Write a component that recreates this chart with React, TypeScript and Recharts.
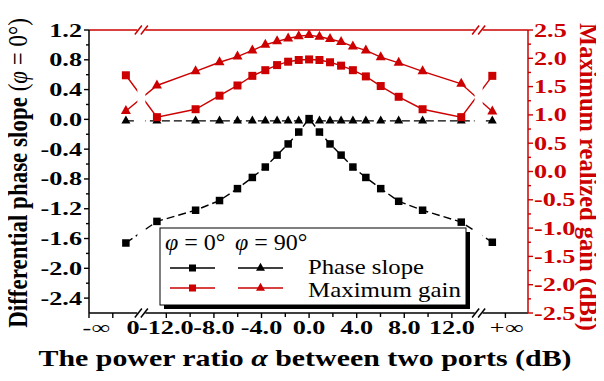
import React from "react";
import { ComposedChart, Line, XAxis, YAxis, ReferenceLine } from "recharts";

// Power ratio between the two ports in dB (±Infinity = one port only)
const powerRatioDb = [
  -Infinity, -12.79, -9.54, -7.53, -6.02, -4.77, -3.68, -2.69, -1.76, -0.87, 0,
  0.87, 1.76, 2.69, 3.68, 4.77, 6.02, 7.53, 9.54, 12.79, Infinity,
];

// Differential phase slope (left axis)
const phaseSlopePhi0 = [
  -1.66, -1.37, -1.22, -1.09, -0.93, -0.78, -0.64, -0.48, -0.33, -0.17, 0.01,
  -0.17, -0.33, -0.48, -0.64, -0.78, -0.93, -1.1, -1.22, -1.38, -1.65,
];
const phaseSlopePhi90 = [
  -0.02, -0.02, -0.02, -0.02, -0.02, -0.02, -0.02, -0.02, -0.02, -0.02, -0.02,
  -0.02, -0.02, -0.02, -0.02, -0.02, -0.02, -0.02, -0.02, -0.02, -0.02,
];

// Maximum realized gain in dBi (right axis)
const gainPhi0 = [
  1.7, 0.96, 1.1, 1.34, 1.52, 1.69, 1.79, 1.88, 1.94, 1.97, 1.98,
  1.97, 1.93, 1.87, 1.79, 1.68, 1.51, 1.32, 1.1, 0.96, 1.69,
];
const gainPhi90 = [
  1.07, 1.52, 1.77, 1.93, 2.03, 2.14, 2.24, 2.3, 2.35, 2.39, 2.41,
  2.38, 2.34, 2.29, 2.21, 2.14, 2.02, 1.92, 1.77, 1.55, 1.06,
];

// Axis ticks
const leftMajorTicks = [1.2, 0.8, 0.4, 0, -0.4, -0.8, -1.2, -1.6, -2.0, -2.4];
const leftMinorTicks = [1.0, 0.6, 0.2, -0.2, -0.6, -1.0, -1.4, -1.8, -2.2];
const rightMajorTicks = [2.5, 2.0, 1.5, 1.0, 0.5, 0, -0.5, -1.0, -1.5, -2.0, -2.5];
const rightMinorTicks = [2.25, 1.75, 1.25, 0.75, 0.25, -0.25, -0.75, -1.25, -1.75, -2.25];
const xMajorTicks = [-18.5, -16.5, -12, -8, -4, 0, 4, 8, 12, 16.5];
const xMinorTicks = [-10, -6, -2, 2, 6, 10];
const xTickLabels = [
  { at: -17.9, text: "-∞" },
  { at: -14.8, text: "0" },
  { at: -12, text: "-12.0" },
  { at: -8, text: "-8.0" },
  { at: -4, text: "-4.0" },
  { at: 0, text: "0.0" },
  { at: 4, text: "4.0" },
  { at: 8, text: "8.0" },
  { at: 12, text: "12.0" },
  { at: 16.6, text: "+∞" },
];

// Layout of the broken x axis
const X_DOMAIN: [number, number] = [-18.5, 18.4];
const LEFT_DOMAIN: [number, number] = [-2.6, 1.2];
const RIGHT_DOMAIN: [number, number] = [-2.5, 2.5];
const INF_POS = 15.4;
const BREAK_POS = [-14.1, 14.25];

const FONT = "'Liberation Serif', 'Times New Roman', Times, serif";
const RED = "#cc0000";
const BLACK = "#000000";

const CHART_W = 604;
const CHART_H = 381;
const MARGIN = { top: 30, right: 16, bottom: 38, left: 29 };
const Y_AXIS_W = 60;
const X_AXIS_H = 30;
const PLOT_LEFT = MARGIN.left + Y_AXIS_W;
const PLOT_RIGHT = CHART_W - MARGIN.right - Y_AXIS_W;
const PLOT_TOP = MARGIN.top;
const PLOT_BOTTOM = CHART_H - MARGIN.bottom - X_AXIS_H;

const axisPos = (db: number) => (Number.isFinite(db) ? db : Math.sign(db) * INF_POS);
const xToPx = (v: number) =>
  PLOT_LEFT + ((v - X_DOMAIN[0]) / (X_DOMAIN[1] - X_DOMAIN[0])) * (PLOT_RIGHT - PLOT_LEFT);

const rows = powerRatioDb.map((db, i) => ({
  pos: axisPos(db),
  ps0: phaseSlopePhi0[i],
  ps90: phaseSlopePhi90[i],
  g0: gainPhi0[i],
  g90: gainPhi90[i],
}));

const xTicks = Array.from(
  new Set([...xMajorTicks, ...xMinorTicks, ...xTickLabels.map((l) => l.at)])
).sort((a, b) => a - b);

const TICK_FONT = 19;
const TICK_STRETCH = 1.38;

const LeftTick = (props: any) => {
  const { x, y, payload } = props;
  const v = payload.value;
  const major = leftMajorTicks.includes(v);
  return (
    <g>
      <line x1={x} y1={y} x2={x - (major ? 5 : 3)} y2={y} stroke={BLACK} strokeWidth={1.4} />
      {major && (
        <text
          transform={`translate(${x - 7},${y + 6.5}) scale(${TICK_STRETCH},1)`}
          textAnchor="end"
          fontFamily={FONT}
          fontWeight="bold"
          fontSize={TICK_FONT}
          fill={BLACK}
        >
          {v.toFixed(1)}
        </text>
      )}
    </g>
  );
};

const RightTick = (props: any) => {
  const { x, y, payload } = props;
  const v = payload.value;
  const major = rightMajorTicks.includes(v);
  return (
    <g>
      <line x1={x} y1={y} x2={x + (major ? 5 : 3)} y2={y} stroke={RED} strokeWidth={1.4} />
      {major && (
        <text
          transform={`translate(${x + 6},${y + 6.5}) scale(${TICK_STRETCH},1)`}
          textAnchor="start"
          fontFamily={FONT}
          fontWeight="bold"
          fontSize={TICK_FONT}
          fill={RED}
        >
          {v.toFixed(1)}
        </text>
      )}
    </g>
  );
};

const BottomTick = (props: any) => {
  const { x, y, payload } = props;
  const v = payload.value;
  const major = xMajorTicks.includes(v);
  const minor = xMinorTicks.includes(v);
  const label = xTickLabels.find((l) => l.at === v);
  const isInf = label && label.text.includes("∞");
  return (
    <g>
      {(major || minor) && (
        <line x1={x} y1={y} x2={x} y2={y + (major ? 5 : 4)} stroke={BLACK} strokeWidth={1.4} />
      )}
      {label && (
        <text
          transform={`translate(${x},${y + 21}) scale(${TICK_STRETCH},1)`}
          textAnchor="middle"
          fontFamily={FONT}
          fontWeight={isInf ? "normal" : "bold"}
          fontSize={TICK_FONT}
          fill={BLACK}
        >
          {label.text}
        </text>
      )}
    </g>
  );
};

const squareDot = (color: string, size: number) => (p: any) => {
  if (p.cx == null || p.cy == null) return <g key={`s${p.index}`} />;
  return (
    <rect
      key={`s${p.index}`}
      x={p.cx - size / 2}
      y={p.cy - size / 2}
      width={size}
      height={size}
      fill={color}
    />
  );
};

const triPoints = (cx: number, cy: number, w: number, h: number) =>
  `${cx},${cy - (2 * h) / 3} ${cx - w / 2},${cy + h / 3} ${cx + w / 2},${cy + h / 3}`;

const triangleDot = (color: string, w: number, h: number) => (p: any) => {
  if (p.cx == null || p.cy == null) return <g key={`t${p.index}`} />;
  return <polygon key={`t${p.index}`} points={triPoints(p.cx, p.cy, w, h)} fill={color} />;
};

// Axis break: white gap plus two slanted strokes on the top and bottom frame
const AxisBreak = ({ at }: { at: number }) => {
  const cx = xToPx(at);
  const slashes = (y: number, color: string) =>
    [-3, 3].map((d) => (
      <line
        key={`${y}${d}`}
        x1={cx + d - 3.5}
        y1={y + 4.5}
        x2={cx + d + 3.5}
        y2={y - 4.5}
        stroke={color}
        strokeWidth={1.5}
      />
    ));
  return (
    <g>
      <rect x={cx - 4} y={PLOT_TOP - 3} width={8} height={PLOT_BOTTOM - PLOT_TOP + 6} fill="#ffffff" />
      {slashes(PLOT_TOP, RED)}
      {slashes(PLOT_BOTTOM, BLACK)}
    </g>
  );
};

const LegendBox = () => {
  const x = 160;
  const y = 228;
  const w = 306;
  const h = 77;
  const row1 = 268;
  const row2 = 288;
  const sample = (x0: number, yy: number, color: string, kind: "square" | "tri") => (
    <g>
      <line x1={x0} y1={yy} x2={x0 + 45} y2={yy} stroke={color} strokeWidth={1.5} />
      {kind === "square" ? (
        <rect x={x0 + 22.5 - 3.5} y={yy - 3.5} width={7} height={7} fill={color} />
      ) : (
        <polygon points={triPoints(x0 + 22.5, yy, 9, 8)} fill={color} />
      )}
    </g>
  );
  return (
    <g fontFamily={FONT}>
      <rect x={x + 4} y={y + 4} width={w} height={h} fill={BLACK} />
      <rect x={x} y={y} width={w} height={h} fill="#ffffff" stroke={BLACK} strokeWidth={1} />
      <text x={165} y={250} fontSize={24} fill={BLACK}>
        <tspan fontStyle="italic">φ</tspan> = 0°
      </text>
      <text x={235} y={250} fontSize={24} fill={BLACK}>
        <tspan fontStyle="italic">φ</tspan> = 90°
      </text>
      {sample(170, row1, BLACK, "square")}
      {sample(238, row1, BLACK, "tri")}
      {sample(170, row2, RED, "square")}
      {sample(238, row2, RED, "tri")}
      <text x={308} y={274} fontSize={22} textLength={116} lengthAdjust="spacingAndGlyphs" fill={BLACK}>
        Phase slope
      </text>
      <text x={308} y={297} fontSize={22} textLength={153} lengthAdjust="spacingAndGlyphs" fill={BLACK}>
        Maximum gain
      </text>
    </g>
  );
};

const Titles = () => (
  <g fontFamily={FONT} fontWeight="bold">
    <text
      transform={`translate(305,366) scale(1.3,1)`}
      textAnchor="middle"
      fontSize={23}
      fill={BLACK}
    >
      The power ratio <tspan fontStyle="italic">α</tspan> between two ports (dB)
    </text>
    <text
      transform={`translate(27,173) scale(1.2,1) rotate(-90)`}
      textAnchor="middle"
      fontSize={23}
      fill={BLACK}
    >
      Differential phase slope{" "}
      <tspan fontWeight="normal">
        (<tspan fontStyle="italic">φ</tspan> = 0°)
      </tspan>
    </text>
    <text
      transform={`translate(580,177) rotate(90)`}
      textAnchor="middle"
      fontSize={24.5}
      fill={RED}
    >
      Maximum realized gain (dBi)
    </text>
  </g>
);

export default function App() {
  return (
    <div
      style={{
        position: "relative",
        width: CHART_W,
        height: CHART_H,
        margin: -8,
        overflow: "hidden",
        background: "#ffffff",
      }}
    >
      <ComposedChart width={CHART_W} height={CHART_H} data={rows} margin={MARGIN}>
        <XAxis
          xAxisId="bottom"
          dataKey="pos"
          type="number"
          domain={X_DOMAIN}
          allowDataOverflow
          ticks={xTicks}
          interval={0}
          tick={<BottomTick />}
          tickLine={false}
          tickSize={0}
          tickMargin={0}
          height={X_AXIS_H}
          axisLine={{ stroke: BLACK, strokeWidth: 1.5 }}
        />
        <YAxis
          yAxisId="left"
          type="number"
          domain={LEFT_DOMAIN}
          allowDataOverflow
          ticks={[...leftMajorTicks, ...leftMinorTicks]}
          interval={0}
          tick={<LeftTick />}
          tickLine={false}
          tickSize={0}
          tickMargin={0}
          width={Y_AXIS_W}
          axisLine={{ stroke: BLACK, strokeWidth: 1.5 }}
        />
        <YAxis
          yAxisId="right"
          orientation="right"
          type="number"
          domain={RIGHT_DOMAIN}
          allowDataOverflow
          ticks={[...rightMajorTicks, ...rightMinorTicks]}
          interval={0}
          tick={<RightTick />}
          tickLine={false}
          tickSize={0}
          tickMargin={0}
          width={Y_AXIS_W}
          axisLine={{ stroke: RED, strokeWidth: 1.5 }}
        />
        {/* top frame line */}
        <ReferenceLine
          xAxisId="bottom"
          yAxisId="right"
          y={RIGHT_DOMAIN[1]}
          stroke={RED}
          strokeWidth={1.5}
        />
        <Line
          xAxisId="bottom"
          yAxisId="left"
          type="linear"
          dataKey="ps90"
          stroke={BLACK}
          strokeWidth={1.4}
          strokeDasharray="8 4"
          dot={triangleDot(BLACK, 9, 8)}
          activeDot={false}
          isAnimationActive={false}
        />
        <Line
          xAxisId="bottom"
          yAxisId="left"
          type="linear"
          dataKey="ps0"
          stroke={BLACK}
          strokeWidth={1.4}
          strokeDasharray="8 4"
          dot={squareDot(BLACK, 7.5)}
          activeDot={false}
          isAnimationActive={false}
        />
        <Line
          xAxisId="bottom"
          yAxisId="right"
          type="linear"
          dataKey="g0"
          stroke={RED}
          strokeWidth={1.4}
          dot={squareDot(RED, 8)}
          activeDot={false}
          isAnimationActive={false}
        />
        <Line
          xAxisId="bottom"
          yAxisId="right"
          type="linear"
          dataKey="g90"
          stroke={RED}
          strokeWidth={1.4}
          dot={triangleDot(RED, 10, 9)}
          activeDot={false}
          isAnimationActive={false}
        />
      </ComposedChart>
      <svg
        width={CHART_W}
        height={CHART_H}
        style={{ position: "absolute", left: 0, top: 0, pointerEvents: "none" }}
      >
        {BREAK_POS.map((b) => (
          <AxisBreak key={b} at={b} />
        ))}
        <LegendBox />
        <Titles />
      </svg>
    </div>
  );
}
